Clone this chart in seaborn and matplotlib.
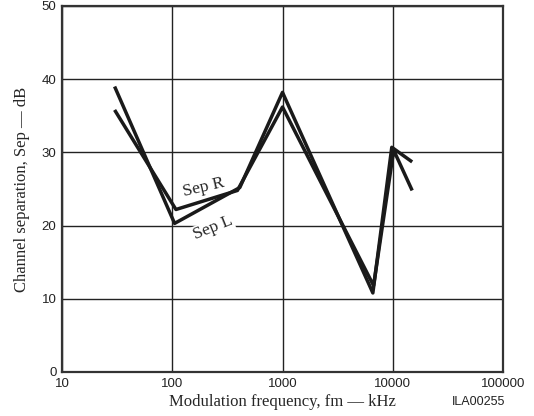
import numpy as np
import pandas as pd
import matplotlib.pyplot as plt
import seaborn as sns

# values
freq_l = [30, 105, 410, 1000, 6600, 9800, 15000]
sep_l = [39.0, 20.3, 25.2, 38.2, 10.8, 30.7, 28.7]
freq_r = [30, 108, 390, 1000, 6700, 10200, 15000]
sep_r = [35.8, 22.2, 24.8, 36.2, 11.8, 30.3, 24.8]
x_ticks = [10, 100, 1000, 10000, 100000]
y_ticks = [0, 10, 20, 30, 40, 50]

df = pd.concat([
    pd.DataFrame({"freq": freq_l, "sep": sep_l, "ch": "Sep L"}),
    pd.DataFrame({"freq": freq_r, "sep": sep_r, "ch": "Sep R"}),
])

sns.set_style("ticks")
serif = ["Liberation Serif", "DejaVu Serif"]
sans = ["Liberation Sans", "DejaVu Sans"]

fig = plt.figure(figsize=(5.34, 4.16), dpi=100)
ax = fig.add_axes([62/534, 1-372/416, 441/534, 366/416])

sns.lineplot(data=df, x="freq", y="sep", hue="ch", palette=["#1a1a1a", "#1a1a1a"],
             sort=False, estimator=None, linewidth=2.5, legend=False, ax=ax,
             solid_joinstyle="round", solid_capstyle="butt")

ax.set_xscale("log")
ax.set_xlim(10, 100000)
ax.set_ylim(0, 50)
ax.set_xticks(x_ticks)
ax.set_xticklabels([str(t) for t in x_ticks], family=sans, fontsize=9.5)
ax.set_yticks(y_ticks)
ax.set_yticklabels([str(t) for t in y_ticks], family=sans, fontsize=9.5)
ax.minorticks_off()
ax.tick_params(length=0, colors="#222222")
ax.tick_params(axis="y", pad=4)
ax.tick_params(axis="x", pad=4)
ax.grid(True, color="#222222", linewidth=1.0)
for s in ax.spines.values():
    s.set_color("#333333")
    s.set_linewidth(1.6)

ax.set_xlabel("Modulation frequency, fm \u2014 kHz", family=serif, fontsize=12, labelpad=3)
ax.set_ylabel("Channel separation, Sep \u2014 dB", family=serif, fontsize=12, labelpad=8)

ax.text(192, 25.2, "Sep R", family=serif, fontsize=12.5, rotation=13,
        ha="center", va="center")
ax.text(236, 19.7, "Sep L", family=serif, fontsize=12.5, rotation=22,
        ha="center", va="center",
        bbox=dict(facecolor="white", edgecolor="none", pad=0.5))

fig.text(505/534, 1-402/416, "ILA00255", family=sans, fontsize=9,
         ha="right", va="center", color="#222222")

fig.savefig("out.png", dpi=100)
